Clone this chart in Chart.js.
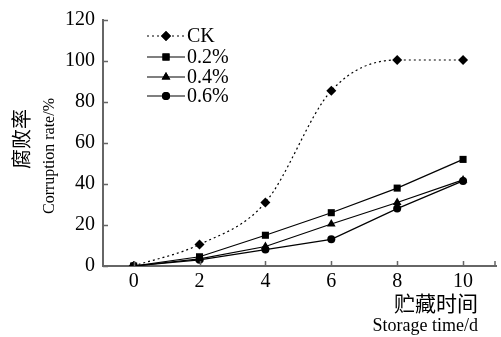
<!DOCTYPE html>
<html>
<head>
<meta charset="utf-8">
<script src="https://cdn.jsdelivr.net/npm/chart.js@4"></script>
<style>
  html, body { margin: 0; padding: 0; background: #fff; }
  #wrap { width: 501px; height: 337px; }
</style>
</head>
<body>
<div id="wrap"><canvas id="chart"></canvas></div>
<script>
const days = [0, 2, 4, 6, 8, 10];
const ckValues = [0, 10.5, 31, 85.5, 100.5, 100.5];
const p02Values = [0, 4.5, 15, 26, 38, 52];
const p04Values = [0, 3.5, 9.5, 20.5, 31, 42];
const p06Values = [0, 3, 8, 13, 28, 41.5];
const seriesNames = ['CK', '0.2%', '0.4%', '0.6%'];
const yTickValues = [0, 20, 40, 60, 80, 100, 120];

const SERIF = '"Liberation Serif", "DejaVu Serif", serif';
const CJK = '"Noto Sans CJK SC", sans-serif';
const AXIS_COLOR = '#666';

const toPoints = vals => vals.map((v, i) => ({ x: days[i], y: v }));

const styles = [
    { pointStyle: 'rectRot', radius: 5, dash: [2, 3], tension: 0.4, mode: 'monotone' },
    { pointStyle: 'rect', radius: 5, dash: [], tension: 0, mode: 'default' },
    { pointStyle: 'triangle', radius: 5, dash: [], tension: 0, mode: 'default' },
    { pointStyle: 'circle', radius: 4, dash: [], tension: 0, mode: 'default' }
];

const allValues = [ckValues, p02Values, p04Values, p06Values];

const datasets = allValues.map((vals, i) => ({
    label: seriesNames[i],
    data: toPoints(vals),
    borderColor: '#000',
    backgroundColor: '#000',
    borderWidth: 1.2,
    borderDash: styles[i].dash,
    tension: styles[i].tension,
    cubicInterpolationMode: styles[i].mode,
    pointStyle: styles[i].pointStyle,
    pointRadius: styles[i].radius,
    pointBorderWidth: 0,
    fill: false
}));

// inward tick marks, legend and axis titles
const decorPlugin = {
    id: 'decor',
    afterDraw(chart) {
        const ctx = chart.ctx;
        const xs = chart.scales.x;
        const ys = chart.scales.y;
        const area = chart.chartArea;
        ctx.save();
        ctx.strokeStyle = AXIS_COLOR;
        ctx.lineWidth = 1.5;
        ctx.beginPath();
        days.forEach(d => {
            const px = Math.round(xs.getPixelForValue(d)) + 0.5;
            ctx.moveTo(px, area.bottom);
            ctx.lineTo(px, area.bottom - 5);
        });
        ctx.moveTo(area.right - 1, area.bottom);
        ctx.lineTo(area.right - 1, area.bottom - 5);
        yTickValues.forEach(v => {
            const py = Math.round(ys.getPixelForValue(v)) + 0.5;
            ctx.moveTo(area.left, py);
            ctx.lineTo(area.left + 5, py);
        });
        ctx.stroke();

        // legend
        const lx0 = 147, lx1 = 185, rowsY = [36, 57, 77, 96];
        ctx.fillStyle = '#000';
        ctx.font = '20px ' + SERIF;
        ctx.textBaseline = 'middle';
        ctx.textAlign = 'left';
        chart.data.datasets.forEach((ds, i) => {
            const y = rowsY[i];
            ctx.strokeStyle = '#000';
            ctx.lineWidth = 1.2;
            ctx.setLineDash(ds.borderDash);
            ctx.beginPath();
            ctx.moveTo(lx0, y);
            ctx.lineTo(lx1, y);
            ctx.stroke();
            ctx.setLineDash([]);
            Chart.helpers.drawPoint(ctx, {
                pointStyle: ds.pointStyle,
                radius: ds.pointRadius,
                rotation: 0,
                borderWidth: 0
            }, (lx0 + lx1) / 2, y);
            ctx.fill();
            ctx.fillText(ds.label, lx1 + 2, y + 1);
        });

        // y axis title
        ctx.save();
        ctx.translate(21, 139);
        ctx.rotate(-Math.PI / 2);
        ctx.textAlign = 'center';
        ctx.font = '20px ' + CJK;
        ctx.fillText('腐败率', 0, 0);
        ctx.restore();
        ctx.save();
        ctx.translate(50, 156);
        ctx.rotate(-Math.PI / 2);
        ctx.textAlign = 'center';
        ctx.font = '16px ' + SERIF;
        ctx.fillText('Corruption rate/%', 0, 0);
        ctx.restore();

        // x axis title
        ctx.textAlign = 'right';
        ctx.font = '21px ' + CJK;
        ctx.fillText('贮藏时间', 478, 303);
        ctx.font = '18px ' + SERIF;
        ctx.fillText('Storage time/d', 478, 326);
        ctx.restore();
    }
};

new Chart(document.getElementById('chart'), {
    type: 'line',
    data: { datasets: datasets },
    options: {
        responsive: true,
        maintainAspectRatio: false,
        animation: false,
        layout: { padding: { top: 16, right: 0, left: 0, bottom: 0 } },
        plugins: {
            legend: { display: false },
            tooltip: { enabled: false }
        },
        scales: {
            x: {
                type: 'linear',
                min: -0.93,
                max: 11,
                afterBuildTicks: s => { s.ticks = days.map(d => ({ value: d })); },
                afterFit: s => { s.height = 71; },
                grid: { display: false, drawTicks: false },
                border: { display: true, color: AXIS_COLOR, width: 2 },
                ticks: {
                    padding: 4,
                    color: '#000',
                    font: { family: SERIF, size: 20 }
                }
            },
            y: {
                min: 0,
                max: 120,
                afterBuildTicks: s => { s.ticks = yTickValues.map(v => ({ value: v })); },
                afterFit: s => { s.width = 103; },
                grid: { display: false, drawTicks: false },
                border: { display: true, color: AXIS_COLOR, width: 2 },
                ticks: {
                    padding: 8,
                    color: '#000',
                    font: { family: SERIF, size: 20 }
                }
            }
        }
    },
    plugins: [decorPlugin]
});
</script>
</body>
</html>
